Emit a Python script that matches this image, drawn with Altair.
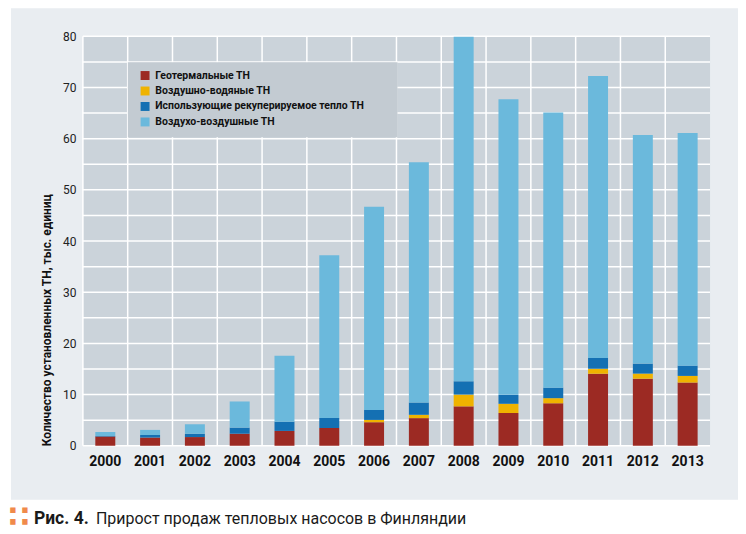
import altair as alt
import pandas as pd

years = [str(y) for y in range(2000, 2014)]
series = [
    "Геотермальные ТН",
    "Воздушно-водяные ТН",
    "Использующие рекуперируемое тепло ТН",
    "Воздухо-воздушные ТН",
]
colors = ["#9c2a23", "#efb300", "#1470b3", "#6bb9dc"]

geo      = [1.8, 1.6, 1.7, 2.35, 2.9, 3.45, 4.6, 5.4, 7.7, 6.4, 8.3, 14.05, 13.1, 12.35]
airwater = [0.0, 0.0, 0.0, 0.0, 0.0, 0.0, 0.45, 0.65, 2.3, 1.8, 1.0, 0.98, 1.0, 1.3]
recup    = [0.1, 0.5, 0.65, 1.2, 1.8, 1.95, 1.95, 2.4, 2.6, 1.75, 2.05, 2.1, 1.95, 2.0]
airair   = [0.8, 1.0, 1.85, 5.1, 12.9, 31.8, 39.7, 46.95, 67.3, 57.75, 53.75, 55.1, 44.65, 45.45]

grid_values = list(range(0, 85, 5))
label_values = list(range(0, 90, 10))

y_title = "Количество установленных ТН, тыс. единиц"
caption_bold = "Рис. 4."
caption_text = "Прирост продаж тепловых насосов в Финляндии"

rows = []
for i, yr in enumerate(years):
    for k, (name, vals) in enumerate(zip(series, [geo, airwater, recup, airair])):
        rows.append({"year": yr, "series": name, "value": vals[i], "order": k})
df = pd.DataFrame(rows)

W, H = 628, 410
FONT = "Roboto"
one = pd.DataFrame({"a": [0]})

x_axis = alt.Axis(
    title=None, labelAngle=0, labelFont=FONT, labelFontSize=14,
    labelFontWeight="bold", labelColor="#111", labelPadding=9,
    domain=False, ticks=False, grid=False, zindex=2,
)
y_axis = alt.Axis(
    values=label_values, title=y_title, titleFont=FONT, titleFontSize=12,
    titleFontWeight="bold", titleColor="#111", titleAnchor="start",
    titlePadding=9, labelFont=FONT, labelFontSize=12, labelColor="#222",
    labelPadding=7, domain=False, ticks=False, grid=False, zindex=2,
)
x_scale = alt.Scale(domain=years, paddingInner=0, paddingOuter=0)
y_scale = alt.Scale(domain=[0, 80], nice=False)

panel = alt.Chart(one).mark_rect(color="#e9edf1").encode(
    x=alt.value(-72), x2=alt.value(656), y=alt.value(-28), y2=alt.value(464)
)
plotbg = alt.Chart(one).mark_rect(color="#cbd3da").encode(
    x=alt.value(0), x2=alt.value(W), y=alt.value(0), y2=alt.value(H)
)
hgrid = alt.Chart(pd.DataFrame({"v": grid_values})).mark_rule(
    color="white", strokeWidth=1.5
).encode(y=alt.Y("v:Q", scale=y_scale, axis=y_axis))
vgrid = alt.Chart(pd.DataFrame({"year": years})).mark_rule(
    color="white", strokeWidth=1.5
).encode(x=alt.X("year:N", scale=x_scale, bandPosition=0, axis=x_axis))
legbox = alt.Chart(one).mark_rect(color="#c3cbd2").encode(
    x=alt.value(45), x2=alt.value(315), y=alt.value(26), y2=alt.value(101)
)

bars = alt.Chart(df).mark_bar(size=20).encode(
    x=alt.X("year:N", scale=x_scale, axis=x_axis),
    y=alt.Y("value:Q", stack="zero", scale=y_scale, axis=y_axis),
    color=alt.Color(
        "series:N",
        sort=series,
        scale=alt.Scale(domain=series, range=colors),
        legend=alt.Legend(
            title=None, orient="none", legendX=57, legendY=34, padding=0,
            symbolType="square", symbolSize=80, symbolStrokeWidth=0,
            labelFont=FONT, labelFontSize=10.5, labelFontWeight="bold",
            labelColor="#111", rowPadding=4.5, labelOffset=5, labelLimit=400,
        ),
    ),
    order=alt.Order("order:Q"),
)

icon = alt.Chart(one).mark_text(
    text="∷", color="#f08a4b", fontSize=30, font="DejaVu Sans", fontWeight="bold",
    align="center", baseline="middle",
).encode(x=alt.value(-64), y=alt.value(482))
cap1 = alt.Chart(one).mark_text(
    text=caption_bold, font=FONT, fontSize=17.5, fontWeight="bold", align="left",
    baseline="alphabetic", color="#1a1a1a",
).encode(x=alt.value(-49), y=alt.value(488))
cap2 = alt.Chart(one).mark_text(
    text=caption_text, font=FONT, fontSize=16, fontWeight="normal", align="left",
    baseline="alphabetic", color="#1a1a1a",
).encode(x=alt.value(13), y=alt.value(488))

chart = alt.layer(panel, plotbg, hgrid, vgrid, legbox, bars, icon, cap1, cap2).properties(
    width=W, height=H, padding=0, background="white"
).configure_view(stroke=None)

chart.save("out.html", embed_options={"renderer": "svg", "actions": False})
